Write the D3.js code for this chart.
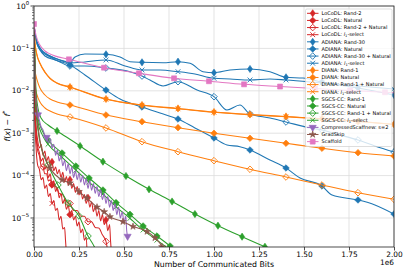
<!DOCTYPE html>
<html><head><meta charset="utf-8">
<script src="https://cdn.jsdelivr.net/npm/d3@7"></script>
<style>
body{margin:0;background:#fff}
svg{display:block}
text{font-family:"DejaVu Sans",sans-serif;fill:#000}
</style>
</head><body>
<svg id="c" width="407" height="271"></svg>
<script>
// ---------- axis ticks ----------
const xTickValues = [0, 0.25, 0.5, 0.75, 1.0, 1.25, 1.5, 1.75, 2.0];   // x 1e6
const xTickLabels = ["0.00","0.25","0.50","0.75","1.00","1.25","1.50","1.75","2.00"];
const yTickExponents = [0, -1, -2, -3, -4, -5];
const xOffsetLabel = "1e6";
const xTitle = "Number of Communicated Bits";

// ---------- series data: [bits (x1e6), f(x)-f*] ----------
const locodlRand2 = [[0,0.36],[0.006,6e-3],[0.011,1.6e-3],[0.02,7e-4],[0.03,4.5e-4],[0.04,5.5e-4],[0.05,3e-4],[0.06,3.8e-4],[0.07,2.2e-4],[0.08,2.8e-4],[0.09,1.7e-4],[0.1,2.1e-4],[0.11,1.3e-4],[0.12,1.6e-4],[0.13,1.1e-4],[0.14,1.4e-4],[0.15,9e-5],[0.16,1.2e-4],[0.17,7e-5],[0.18,9.5e-5],[0.19,6e-5],[0.2,8e-5],[0.21,5e-5],[0.22,6.5e-5],[0.23,4e-5],[0.24,5.5e-5],[0.25,3.5e-5],[0.26,4.5e-5],[0.27,2.8e-5],[0.28,3.6e-5],[0.29,2.2e-5],[0.3,3e-5],[0.31,1.8e-5],[0.32,2.4e-5],[0.33,1.4e-5],[0.34,1.9e-5],[0.35,1.1e-5],[0.36,1.5e-5],[0.37,8.5e-6],[0.38,1.2e-5],[0.39,7e-6],[0.4,9e-6],[0.41,5e-6],[0.42,7e-6],[0.425,3e-6],[0.43,1.5e-6]];
const locodlRand2Marks = [11, 21, 31, 41];
const locodlNatural = [[0,0.36],[0.006,4e-3],[0.011,1.2e-3],[0.02,5e-4],[0.03,3.5e-4],[0.04,2.2e-4],[0.05,2.6e-4],[0.06,1.4e-4],[0.07,1.7e-4],[0.08,9e-5],[0.09,1.1e-4],[0.1,6e-5],[0.11,7.5e-5],[0.12,4.2e-5],[0.13,5.2e-5],[0.14,3e-5],[0.15,3.8e-5],[0.16,2.2e-5],[0.17,2.8e-5],[0.18,1.6e-5],[0.19,2e-5],[0.2,1.2e-5],[0.21,1.5e-5],[0.22,9e-6],[0.23,1.1e-5],[0.24,6.5e-6],[0.25,8e-6],[0.26,4.5e-6],[0.27,5.5e-6],[0.28,3e-6],[0.29,3.5e-6],[0.295,1.5e-6]];
const locodlNaturalMarks = [11, 21];
const locodlRand2Nat = [[0,0.36],[0.006,2.5e-3],[0.011,9e-4],[0.02,4e-4],[0.03,2.9e-4],[0.04,1.7e-4],[0.05,1.6e-4],[0.06,1.1e-4],[0.07,1.1e-4],[0.08,7.5e-5],[0.09,8e-5],[0.1,6.2e-5],[0.12,5.6e-5],[0.14,3.8e-5],[0.16,3.5e-5],[0.18,2.4e-5],[0.2,2.2e-5],[0.22,1.5e-5],[0.24,1.5e-5],[0.26,1.1e-5],[0.28,1.1e-5],[0.3,8.2e-6],[0.32,8.2e-6],[0.34,6e-6],[0.36,5.8e-6],[0.38,4e-6],[0.4,2.8e-6],[0.41,1.6e-6]];
const locodlRand2NatMarks = [1, 6, 11, 16, 21, 26];
const locodlL1 = [[0,0.36],[0.006,1.5e-3],[0.011,5e-4],[0.02,1.8e-4],[0.03,1.4e-4],[0.04,8e-5],[0.05,9e-5],[0.06,5e-5],[0.07,6e-5],[0.08,3.2e-5],[0.09,3.8e-5],[0.1,2.2e-5],[0.11,2.6e-5],[0.12,1.5e-5],[0.13,1.7e-5],[0.14,9e-6],[0.15,1.1e-5],[0.16,5.5e-6],[0.17,6e-6],[0.175,3e-6],[0.18,1.5e-6]];
const locodlL1Marks = [11];

const adianaRand30 = [[0,0.356],[0.011,0.176],[0.028,0.114],[0.05,0.0822],[0.089,0.0662],[0.144,0.0533],[0.2,0.0478],[0.228,0.0627],[0.283,0.0738],[0.4,0.0726],[0.478,0.0627],[0.533,0.0486],[0.6,0.047],[0.717,0.046],[0.8,0.0486],[0.867,0.0445],[0.939,0.0282],[1.0,0.0267],[1.089,0.031],[1.2,0.0327],[1.311,0.0282],[1.4,0.0208],[1.494,0.02],[1.6,0.0161],[1.8,0.0116],[2.0,0.00796]];
const adianaRand30Marks = [6,9,12,14,17,19,21,23,24,25];
const adianaNatural = [[0,0.356],[0.011,0.158],[0.028,0.102],[0.061,0.0662],[0.117,0.0533],[0.2,0.0406],[0.283,0.0236],[0.4,0.0104],[0.478,0.00641],[0.6,0.00415],[0.7,0.00299],[0.8,0.00216],[0.894,0.00133],[1.0,0.000771],[1.072,0.000527],[1.144,0.000481],[1.2,0.000402],[1.311,0.000233],[1.4,0.000151],[1.478,0.0000877],[1.6,0.0000569],[1.656,0.0000348],[1.8,0.0000266],[1.894,0.0000203],[2.0,0.0000124]];
const adianaNaturalMarks = [5,7,9,11,13,16,18,20,22,24];
const adianaRand30Nat = [[0,0.356],[0.011,0.158],[0.033,0.0917],[0.089,0.0627],[0.144,0.0478],[0.2,0.0385],[0.283,0.0385],[0.4,0.0345],[0.533,0.0282],[0.6,0.0223],[0.644,0.018],[0.717,0.013],[0.8,0.0164],[0.906,0.0104],[1.0,0.00726],[1.072,0.00353],[1.144,0.00463],[1.2,0.00284],[1.311,0.00228],[1.4,0.00184],[1.533,0.00133],[1.6,0.00119],[1.7,0.000907],[1.8,0.000692],[1.894,0.000499],[2.0,0.00036]];
const adianaRand30NatMarks = [5,7,9,12,14,17,19,21,23,25];
const adianaL1 = [[0,0.356],[0.011,0.176],[0.033,0.102],[0.089,0.0662],[0.144,0.0533],[0.2,0.0453],[0.283,0.0478],[0.4,0.0533],[0.506,0.0385],[0.6,0.031],[0.7,0.031],[0.8,0.0282],[0.894,0.0249],[1.0,0.0197],[1.089,0.019],[1.2,0.018],[1.311,0.019],[1.4,0.018],[1.6,0.0153],[1.8,0.013],[2.0,0.011]];
const adianaL1Marks = [5,7,9,11,13,15,17,18,19,20];

const dianaRand1 = [[0,0.356],[0.0056,0.134],[0.017,0.0699],[0.033,0.0453],[0.061,0.0278],[0.089,0.02],[0.128,0.0153],[0.2,0.0123],[0.4,0.00641],[0.6,0.00463],[0.8,0.00383],[1.0,0.00316],[1.2,0.00276],[1.4,0.00248],[1.6,0.0022],[1.8,0.00191],[2.0,0.00162]];
const dianaNatural = [[0,0.356],[0.0056,0.031],[0.017,0.018],[0.033,0.0116],[0.061,0.00796],[0.089,0.00641],[0.128,0.00544],[0.2,0.00463],[0.4,0.00269],[0.6,0.00187],[0.8,0.00135],[1.0,0.000995],[1.2,0.000759],[1.4,0.000578],[1.6,0.000441],[1.8,0.000347],[2.0,0.00029]];
const dianaRand1Nat = [[0,0.356],[0.0056,0.0137],[0.017,0.00796],[0.033,0.00544],[0.061,0.00393],[0.089,0.00334],[0.128,0.00284],[0.2,0.00241],[0.4,0.00133],[0.6,0.000631],[0.8,0.000366],[1.0,0.000225],[1.2,0.000141],[1.4,0.0000927],[1.6,0.00006],[1.8,0.0000395],[2.0,0.0000276]];
const dianaL1 = [[0,0.356],[0.0056,0.128],[0.017,0.067],[0.033,0.0437],[0.061,0.027],[0.089,0.0195],[0.128,0.015],[0.2,0.0121],[0.4,0.0063],[0.6,0.00455],[0.8,0.00376],[1.0,0.00311],[1.2,0.00272],[1.4,0.00244],[1.6,0.00217],[1.8,0.00188],[2.0,0.0016]];
const dianaMarks = [7,8,9,10,11,12,13,14,15,16];

const sgcsRand1 = [[0,0.356],[0.0056,0.0533],[0.011,0.0104],[0.022,0.00393],[0.039,0.00228],[0.078,0.00156],[0.128,0.00113],[0.256,0.000499],[0.383,0.000213],[0.511,0.0000979],[0.639,0.0000475],[0.767,0.0000245],[0.894,0.0000124],[1.022,0.00000658],[1.156,0.00000362],[1.283,0.0000021],[1.339,0.00000167]];
const sgcsRand1Marks = [6,7,8,9,10,11,12,13,14,15];
const sgcsNatural = [[0,0.356],[0.0056,0.031],[0.011,0.00607],[0.022,0.00228],[0.044,0.00119],[0.078,0.000692],[0.156,0.000341],[0.233,0.000168],[0.306,0.0000877],[0.383,0.0000457],[0.456,0.000023],[0.533,0.0000122],[0.606,0.00000648],[0.683,0.00000376],[0.756,0.00000219],[0.783,0.00000176]];
const sgcsNaturalMarks = [5,6,7,8,9,10,11,12,13,14];
const sgcsRand1Nat = [[0,0.356],[0.0056,0.018],[0.011,0.00353],[0.022,0.00119],[0.044,0.000402],[0.078,0.000178],[0.133,0.00006],[0.189,0.0000226],[0.25,0.0000112],[0.3,0.00000376],[0.333,0.00000219],[0.344,0.00000176]];
const sgcsRand1NatMarks = [5,6,7,8,9];
const sgcsL1 = [[0,0.356],[0.0056,0.025],[0.011,0.0049],[0.022,0.0018],[0.044,0.00095],[0.078,0.00055],[0.156,0.00027],[0.233,0.000134],[0.306,0.00007],[0.383,0.0000366],[0.456,0.0000184],[0.533,0.0000098],[0.606,0.0000052],[0.683,0.000003],[0.756,0.00000175],[0.783,0.0000014]];
const sgcsL1Marks = [5,6,7,8,9,10,11,12,13,14];

const compressedScaffnew = [[0,0.36],[0.006,1.5e-2],[0.011,6e-3],[0.017,4e-3],[0.022,2.7e-3],[0.03,2e-3],[0.04,1.4e-3],[0.05,1.2e-3],[0.06,9e-4],[0.07,8e-4],[0.08,6e-4],[0.09,7.5e-4],[0.1,4.5e-4],[0.11,5.5e-4],[0.12,3e-4],[0.13,4e-4],[0.14,2.2e-4],[0.15,3e-4],[0.16,1.7e-4],[0.17,2.3e-4],[0.18,1.3e-4],[0.19,1.9e-4],[0.2,1.1e-4],[0.21,1.6e-4],[0.22,9e-5],[0.23,1.3e-4],[0.24,8e-5],[0.25,1.15e-4],[0.26,7e-5],[0.27,1e-4],[0.28,6e-5],[0.29,8.5e-5],[0.3,5e-5],[0.31,7.5e-5],[0.32,4.5e-5],[0.33,6.5e-5],[0.34,3.8e-5],[0.35,5.5e-5],[0.36,3.2e-5],[0.37,4.6e-5],[0.38,2.7e-5],[0.39,3.8e-5],[0.4,2.2e-5],[0.41,3.2e-5],[0.42,1.8e-5],[0.43,2.6e-5],[0.44,1.5e-5],[0.45,2.2e-5],[0.46,1.2e-5],[0.47,1.8e-5],[0.48,1e-5],[0.49,1.4e-5],[0.5,8e-6],[0.51,1.1e-5],[0.515,5e-6],[0.52,3.7e-6]];
const compressedScaffnewMarks = [4, 9, 55];
const gradSkip = [[0,0.36],[0.011,6e-3],[0.033,6.9e-4],[0.061,2.6e-4],[0.089,1.5e-4],[0.156,7.9e-5],[0.2,6.7e-5],[0.25,4.2e-5],[0.294,2.95e-5],[0.35,1.8e-5],[0.39,1.4e-5],[0.422,1.07e-5],[0.494,8.2e-6],[0.55,6.3e-6],[0.628,4.8e-6],[0.672,3.4e-6],[0.711,2.1e-6],[0.72,1.7e-6]];
const gradSkipMarks = [4,5,6,7,8,9,10,11,12,13,14,15,16];
const scaffold = [[0,0.376],[0.011,0.207],[0.033,0.12],[0.061,0.0868],[0.089,0.0738],[0.194,0.0553],[0.389,0.0351],[0.583,0.0259],[0.778,0.0197],[0.972,0.0168],[1.167,0.0142],[1.367,0.0126],[1.561,0.0113],[1.756,0.0102],[1.95,0.00922],[2.0,0.00897]];
const scaffoldMarks = [0,5,6,7,8,9,10,11,12,13,14];

const seriesLabels = ["LoCoDL: Rand-2","LoCoDL: Natural","LoCoDL: Rand-2 + Natural","LoCoDL: {l1}-select",
  "ADIANA: Rand-30","ADIANA: Natural","ADIANA: Rand-30 + Natural","ADIANA: {l1}-select",
  "DIANA: Rand-1","DIANA: Natural","DIANA: Rand-1 + Natural","DIANA: {l1}-select",
  "SGCS-CC: Rand-1","SGCS-CC: Natural","SGCS-CC: Rand-1 + Natural","SGCS-CC: {l1}-select",
  "CompressedScaffnew: s=2","GradSkip","Scaffold"];
const seriesColors = ["#d62728","#d62728","#d62728","#d62728","#1f77b4","#1f77b4","#1f77b4","#1f77b4",
  "#ff7f0e","#ff7f0e","#ff7f0e","#ff7f0e","#2ca02c","#2ca02c","#2ca02c","#2ca02c","#9467bd","#8c564b","#e377c2"];
const seriesMarkers = ["thin","diamond","open","x","thin","diamond","open","x","thin","diamond","open","x",
  "thin","diamond","open","x","tri","star","square"];

const seriesData = [locodlRand2,locodlNatural,locodlRand2Nat,locodlL1,adianaRand30,adianaNatural,adianaRand30Nat,adianaL1,
  dianaRand1,dianaNatural,dianaRand1Nat,dianaL1,sgcsRand1,sgcsNatural,sgcsRand1Nat,sgcsL1,compressedScaffnew,gradSkip,scaffold];
const seriesMarks = [locodlRand2Marks,locodlNaturalMarks,locodlRand2NatMarks,locodlL1Marks,adianaRand30Marks,adianaNaturalMarks,adianaRand30NatMarks,adianaL1Marks,
  dianaMarks,dianaMarks,dianaMarks,dianaMarks,sgcsRand1Marks,sgcsNaturalMarks,sgcsRand1NatMarks,sgcsL1Marks,compressedScaffnewMarks,gradSkipMarks,scaffoldMarks];

// ---------- drawing ----------
const X_UNIT = 1e6;
const P = {l:34, r:394, t:6, b:247};
const svg = d3.select("#c");
const x = d3.scaleLinear().domain([0, 2*X_UNIT]).range([P.l, P.r]);
const y = d3.scaleLog().domain([2.07e-6, 1]).range([P.b, P.t]);

// grid
const grid = svg.append("g").attr("stroke","#dcdcdc").attr("stroke-width",0.8);
xTickValues.forEach(v=>grid.append("line").attr("x1",x(v*X_UNIT)).attr("x2",x(v*X_UNIT)).attr("y1",P.t).attr("y2",P.b));
yTickExponents.forEach(e=>grid.append("line").attr("x1",P.l).attr("x2",P.r).attr("y1",y(Math.pow(10,e))).attr("y2",y(Math.pow(10,e))));

svg.append("defs").append("clipPath").attr("id","clip").append("rect")
  .attr("x",P.l).attr("y",P.t).attr("width",P.r-P.l).attr("height",P.b-P.t);

function markerPath(type){
  switch(type){
    case "thin": return "M0,-3.6L2.5,0L0,3.6L-2.5,0Z";
    case "diamond": return "M0,-3.3L3.3,0L0,3.3L-3.3,0Z";
    case "open": return "M0,-3.3L3.3,0L0,3.3L-3.3,0Z";
    case "x": return "M-2.4,-2.4L2.4,2.4M-2.4,2.4L2.4,-2.4";
    case "square": return "M-2.5,-2.5H2.5V2.5H-2.5Z";
    case "tri": return d3.symbol(d3.symbolTriangle, 22)();
    case "star": return d3.symbol(d3.symbolStar, 14)();
  }
}
function drawMarker(g, type, color, px, py){
  const p = g.append("path").attr("d", markerPath(type)).attr("transform",`translate(${px},${py})`);
  if(type==="open" || type==="x") p.attr("fill","none").attr("stroke",color).attr("stroke-width",0.9);
  else p.attr("fill",color).attr("stroke",color).attr("stroke-width",0.6);
  if(type==="tri") p.attr("transform",`translate(${px},${py}) rotate(180)`);
}

const plot = svg.append("g").attr("clip-path","url(#clip)");
const line = d3.line().x(d=>x(d[0]*X_UNIT)).y(d=>y(d[1])).curve(d3.curveMonotoneX);
seriesData.forEach((data,i)=>{
  const g = plot.append("g");
  g.append("path").attr("d", line(data)).attr("fill","none").attr("stroke",seriesColors[i]).attr("stroke-width",1.05);
  seriesMarks[i].forEach(k=>{ const d=data[k]; if(d) drawMarker(g, seriesMarkers[i], seriesColors[i], x(d[0]*X_UNIT), y(d[1])); });
});

// frame
svg.append("rect").attr("x",P.l).attr("y",P.t).attr("width",P.r-P.l).attr("height",P.b-P.t)
  .attr("fill","none").attr("stroke","#222").attr("stroke-width",0.8);

// x axis
const xa = svg.append("g").attr("transform",`translate(0,${P.b})`)
  .call(d3.axisBottom(x).tickValues(xTickValues.map(v=>v*X_UNIT)).tickFormat((d,i)=>xTickLabels[i]).tickSize(3.5).tickPadding(1.5));
xa.select(".domain").remove();
xa.selectAll("line").attr("stroke","#222").attr("stroke-width",0.8);
xa.selectAll("text").attr("font-size",7.4).attr("font-family","DejaVu Sans");
svg.append("text").attr("x",P.r).attr("y",265).attr("text-anchor","end").attr("font-size",7.4).text(xOffsetLabel);
svg.append("text").attr("x",(P.l+P.r)/2).attr("y",267).attr("text-anchor","middle").attr("font-size",7.8).text(xTitle);

// y axis
const ya = svg.append("g");
yTickExponents.forEach(e=>{
  const py = y(Math.pow(10,e));
  ya.append("line").attr("x1",P.l-3.5).attr("x2",P.l).attr("y1",py).attr("y2",py).attr("stroke","#222").attr("stroke-width",0.8);
  const t = ya.append("text").attr("x",P.l-5).attr("y",py+2.6).attr("text-anchor","end").attr("font-size",7.4);
  t.append("tspan").text("10");
  t.append("tspan").attr("dy",-3.4).attr("font-size",5.3).text(e===0?"0":"\u2212"+Math.abs(e));
  for(let k=2;k<=9;k++){
    const v=k*Math.pow(10,e-1);
    if(v>=y.domain()[0] && v<=1){
      const q=y(v);
      ya.append("line").attr("x1",P.l-2).attr("x2",P.l).attr("y1",q).attr("y2",q).attr("stroke","#222").attr("stroke-width",0.6);
    }
  }
});
const yl = svg.append("text").attr("transform","translate(10,126) rotate(-90)").attr("text-anchor","middle").attr("font-size",7.8);
yl.append("tspan").attr("font-style","italic").text("f");
yl.append("tspan").text("(");
yl.append("tspan").attr("font-style","italic").text("x");
yl.append("tspan").text(") \u2212 ");
yl.append("tspan").attr("font-style","italic").text("f");
yl.append("tspan").attr("dy",-3).attr("font-size",6.5).text("*");

// legend
const L = {x:305.5, y:9, w:86.5, h:137.5, row:7.13};
const lg = svg.append("g");
lg.append("rect").attr("x",L.x).attr("y",L.y).attr("width",L.w).attr("height",L.h).attr("rx",1.5)
  .attr("fill","#fff").attr("fill-opacity",0.8).attr("stroke","#d0d0d0").attr("stroke-width",0.7);
seriesLabels.forEach((lab,i)=>{
  const cy = L.y + 4.3 + i*L.row;
  lg.append("line").attr("x1",L.x+1.5).attr("x2",L.x+13).attr("y1",cy).attr("y2",cy).attr("stroke",seriesColors[i]).attr("stroke-width",1);
  drawMarker(lg, seriesMarkers[i], seriesColors[i], L.x+7.2, cy);
  const t = lg.append("text").attr("x",L.x+16).attr("y",cy+1.8).attr("font-size",5);
  if(lab.includes("{l1}")){
    const parts = lab.split("{l1}");
    t.append("tspan").text(parts[0]);
    t.append("tspan").attr("font-style","italic").text("l");
    t.append("tspan").attr("font-size",3.6).attr("dy",1).text("1");
    t.append("tspan").attr("dy",-1).text(parts[1]);
  } else t.text(lab);
});
</script>
</body></html>
